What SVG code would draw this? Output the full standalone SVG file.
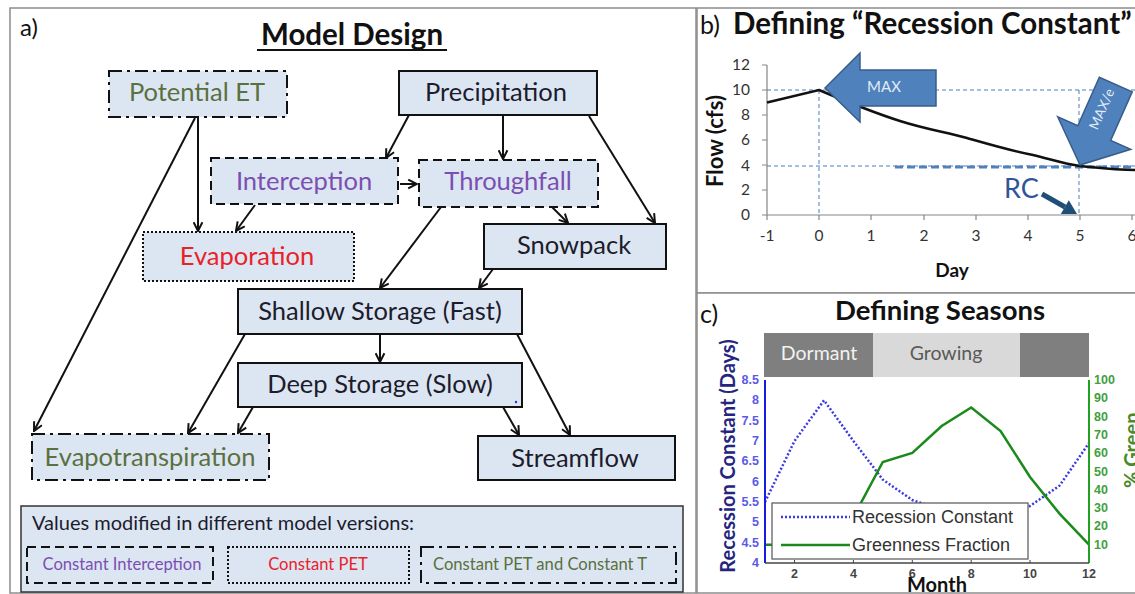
<svg xmlns="http://www.w3.org/2000/svg" width="1135" height="594" viewBox="0 0 1135 594">
  <style>
    .panel { fill: #ffffff; stroke: #8c8c8c; stroke-width: 1.5; }
    .box { fill: #dce6f2; stroke: #111; stroke-width: 2; }
    .dash { stroke-dasharray: 9 5; }
    .dot { stroke-dasharray: 2 2; }
    .dashdot { stroke-dasharray: 13 5 3 5; }
    .lbl { font-family: Lato, "Liberation Sans", sans-serif; font-size: 25.5px; text-anchor: middle; fill: #1c1c2c; }
    .green { fill: #5a7040; }
    .purple { fill: #7b4fb2; }
    .red { fill: #e8222a; }
    .conn line { stroke: #111; stroke-width: 2; marker-end: url(#ah); }
    .cal { font-family: Lato, "Liberation Sans", sans-serif; }
    .tick { font-family: Lato, "Liberation Sans", sans-serif; font-size: 15.5px; fill: #333; }
    .ax { stroke: #868686; stroke-width: 1.2; fill: none; }
    .guide { stroke: #4a7ebb; stroke-width: 1; stroke-dasharray: 4 3; fill: none; }
    .mtl { font-family: "Liberation Sans", Arial, sans-serif; font-size: 12.5px; font-weight: bold; }
  </style>
  <defs>
    <marker id="ah" viewBox="0 0 10 10" refX="9" refY="5" markerWidth="11" markerHeight="11" markerUnits="userSpaceOnUse" orient="auto">
      <path d="M1,1 L9,5 L1,9" fill="none" stroke="#111" stroke-width="1.8"/>
    </marker>
  </defs>

  <!-- panel frames -->
  <rect class="panel" x="10" y="8" width="686" height="585"/>
  <rect class="panel" x="697" y="8" width="445" height="285"/>
  <rect class="panel" x="697" y="293" width="445" height="300"/>

  <!-- ===== a) Model Design ===== -->
  <text x="20" y="36" class="cal" font-size="24" fill="#111">a)</text>
  <text x="352" y="45" class="cal" font-size="29.5" font-weight="bold" text-anchor="middle" fill="#111">Model Design</text>
  <line x1="257" y1="50" x2="447" y2="50" stroke="#111" stroke-width="2"/>

  <g id="potential-et">
    <rect class="box dashdot" x="109" y="71" width="178" height="46"/>
    <text class="lbl green" x="197" y="101">Potential ET</text>
  </g>
  <g id="precipitation">
    <rect class="box" x="399" y="71" width="198" height="44"/>
    <text class="lbl" x="496" y="101">Precipitation</text>
  </g>
  <g id="interception">
    <rect class="box dash" x="211" y="158" width="187" height="46"/>
    <text class="lbl purple" x="304" y="190">Interception</text>
  </g>
  <g id="throughfall">
    <rect class="box dash" x="419" y="160" width="179" height="47"/>
    <text class="lbl purple" x="508" y="190">Throughfall</text>
  </g>
  <g id="evaporation">
    <rect class="box dot" x="143" y="232" width="211" height="49"/>
    <text class="lbl red" x="247" y="265">Evaporation</text>
  </g>
  <g id="snowpack">
    <rect class="box" x="484" y="224" width="182" height="45"/>
    <text class="lbl" x="574" y="254">Snowpack</text>
  </g>
  <g id="shallow-storage">
    <rect class="box" x="238" y="289" width="284" height="45"/>
    <text class="lbl" x="380" y="320">Shallow Storage (Fast)</text>
  </g>
  <g id="deep-storage">
    <rect class="box" x="238" y="363" width="284" height="44"/>
    <text class="lbl" x="380" y="393">Deep Storage (Slow)</text>
    <circle cx="516" cy="402" r="1.2" fill="#2233cc"/>
  </g>
  <g id="evapotranspiration">
    <rect class="box dashdot" x="32" y="434" width="237" height="46"/>
    <text class="lbl green" x="150" y="466">Evapotranspiration</text>
  </g>
  <g id="streamflow">
    <rect class="box" x="478" y="436" width="197" height="44"/>
    <text class="lbl" x="575" y="467">Streamflow</text>
  </g>

  <g id="connectors" class="conn">
    <line x1="198" y1="117" x2="198" y2="231"/>
    <line x1="195" y1="118" x2="34" y2="431"/>
    <line x1="255" y1="205" x2="236" y2="231"/>
    <line x1="400" y1="184" x2="417" y2="184"/>
    <line x1="409" y1="115" x2="386" y2="158"/>
    <line x1="503" y1="115" x2="503" y2="159"/>
    <line x1="589" y1="116" x2="655" y2="223"/>
    <line x1="552" y1="207" x2="568" y2="223"/>
    <line x1="441" y1="207" x2="380" y2="288"/>
    <line x1="493" y1="269" x2="479" y2="288"/>
    <line x1="380" y1="334" x2="380" y2="362"/>
    <line x1="245" y1="334" x2="188" y2="433"/>
    <line x1="253" y1="407" x2="238" y2="433"/>
    <line x1="503" y1="407" x2="519" y2="435"/>
    <line x1="517" y1="334" x2="570" y2="435"/>
  </g>

  <g id="versions-key">
    <rect x="21" y="506" width="662" height="86" fill="#dce6f2" stroke="#333" stroke-width="1.5"/>
    <text x="32" y="530" class="cal" font-size="20" fill="#1c1c2c">Values modified in different model versions:</text>
    <rect class="box dash" x="27" y="547" width="186" height="36"/>
    <text x="122" y="570" class="cal purple" font-size="16.6" text-anchor="middle">Constant Interception</text>
    <rect class="box dot" x="228" y="547" width="181" height="36"/>
    <text x="318" y="570" class="cal red" font-size="16.6" text-anchor="middle">Constant PET</text>
    <rect class="box dashdot" x="421" y="547" width="255" height="36"/>
    <text x="540" y="570" class="cal green" font-size="16.6" text-anchor="middle">Constant PET and Constant T</text>
  </g>

  <!-- ===== b) Recession constant chart ===== -->
  <text x="700" y="34" class="cal" font-size="25" fill="#111">b)</text>
  <text x="733" y="34" class="cal" font-size="29.5" font-weight="bold" fill="#111">Defining “Recession Constant”</text>

  <!-- axes -->
  <path class="ax" d="M767,65 V215 H1135"/>
  <path class="ax" d="M762,65 H767 M762,90 H767 M762,115 H767 M762,140 H767 M762,165 H767 M762,190 H767 M762,215 H767"/>
  <path class="ax" d="M767,215 V220 M819,215 V220 M871,215 V220 M924,215 V220 M976,215 V220 M1028,215 V220 M1080,215 V220 M1132,215 V220"/>
  <g class="tick" text-anchor="end">
    <text x="750" y="70">12</text>
    <text x="750" y="95">10</text>
    <text x="750" y="120">8</text>
    <text x="750" y="145">6</text>
    <text x="750" y="171">4</text>
    <text x="750" y="195">2</text>
    <text x="750" y="220">0</text>
  </g>
  <g class="tick" text-anchor="middle">
    <text x="767" y="241">-1</text>
    <text x="819" y="241">0</text>
    <text x="871" y="241">1</text>
    <text x="924" y="241">2</text>
    <text x="976" y="241">3</text>
    <text x="1028" y="241">4</text>
    <text x="1080" y="241">5</text>
    <text x="1132" y="241">6</text>
  </g>
  <text x="952" y="277" class="cal" font-size="19" font-weight="bold" text-anchor="middle" fill="#111">Day</text>
  <text transform="translate(723,141) rotate(-90)" class="cal" font-size="22" font-weight="bold" text-anchor="middle" fill="#111">Flow (cfs)</text>

  <!-- guide lines -->
  <path class="guide" d="M767,90 H1135 M819,90 V215 M767,166 H1135 M1079,90 V215"/>
  <path d="M895,167 H1135" stroke="#4f81bd" stroke-width="3" stroke-dasharray="8 4" fill="none"/>

  <!-- hydrograph -->
  <path d="M767,102.5 L819,90 C845,101 875,113 900,121 C925,129 945,132 967,138 C995,146 1012,151 1033,155 C1050,159 1065,164 1080,166 C1100,168 1115,170 1135,170" fill="none" stroke="#111" stroke-width="2.5"/>

  <!-- MAX arrow -->
  <polygon points="825,88 860,53 860,70 936,70 936,106 860,106 860,122" fill="#4f81bd" stroke="#385d8a" stroke-width="1.5"/>
  <text x="884" y="92" class="cal" font-size="15" text-anchor="middle" fill="#e3ebf6">MAX</text>

  <!-- MAX/e arrow -->
  <polygon transform="translate(1080,165) rotate(114)" points="0,0 -35,40 -35,18 -88,18 -88,-18 -35,-18 -35,-40" fill="#4f81bd" stroke="#385d8a" stroke-width="1.5"/>
  <text transform="translate(1106,111) rotate(-66)" class="cal" font-size="13.5" text-anchor="middle" fill="#e3ebf6">MAX/e</text>

  <!-- RC pointer -->
  <text x="1004" y="198" class="cal" font-size="27" fill="#2f5597">RC</text>
  <line x1="1042" y1="194" x2="1065" y2="207" stroke="#1f4e79" stroke-width="5"/>
  <polygon points="1077,214 1060.8,214 1068.8,200.2" fill="#1f4e79"/>

  <!-- ===== c) Seasons chart ===== -->
  <text x="700" y="323" class="cal" font-size="25" fill="#111">c)</text>
  <text x="940" y="320" class="cal" font-size="27.5" font-weight="bold" text-anchor="middle" fill="#111">Defining Seasons</text>

  <rect x="764" y="333" width="109" height="44" fill="#7f7f7f"/>
  <rect x="873" y="333" width="147" height="44" fill="#d9d9d9"/>
  <rect x="1020" y="333" width="69" height="44" fill="#7f7f7f"/>
  <text x="819" y="360" class="cal" font-size="19.5" text-anchor="middle" fill="#f2f2f2">Dormant</text>
  <text x="946" y="360" class="cal" font-size="19.5" text-anchor="middle" fill="#595959">Growing</text>

  <!-- series -->
  <polyline points="765,502 794.5,441 824,400.3 853.4,441 882.8,479.6 912.3,500 941.7,510 971.2,514 1000.6,514 1030,506 1059.5,485.7 1089,443" fill="none" stroke="#3a3ae0" stroke-width="2.5" stroke-dasharray="2 2"/>
  <polyline points="765,544.7 794.5,544.7 824,541 853.4,517 882.8,462 912.3,453 941.7,426 971.2,407.5 1000.6,431 1030,477 1059.5,513.6 1089,544.7" fill="none" stroke="#1a8a1a" stroke-width="2.5"/>

  <!-- axes -->
  <line x1="765" y1="380" x2="765" y2="563" stroke="#1a1ae6" stroke-width="2"/>
  <line x1="1089" y1="380" x2="1089" y2="563" stroke="#22a022" stroke-width="2"/>
  <line x1="765" y1="563" x2="1089" y2="563" stroke="#444" stroke-width="1.5"/>
  <path d="M794.5,563 V560 M853.4,563 V560 M912.3,563 V560 M971.2,563 V560 M1030,563 V560" stroke="#444" stroke-width="1"/>
  <g class="mtl" fill="#5a5ae6" text-anchor="end">
    <text x="759" y="384">8.5</text>
    <text x="759" y="404">8</text>
    <text x="759" y="425">7.5</text>
    <text x="759" y="445">7</text>
    <text x="759" y="465">6.5</text>
    <text x="759" y="486">6</text>
    <text x="759" y="506">5.5</text>
    <text x="759" y="526">5</text>
    <text x="759" y="547">4.5</text>
    <text x="759" y="567">4</text>
  </g>
  <g class="mtl" fill="#3fa03f">
    <text x="1094" y="384">100</text>
    <text x="1094" y="402">90</text>
    <text x="1094" y="421">80</text>
    <text x="1094" y="439">70</text>
    <text x="1094" y="457">60</text>
    <text x="1094" y="476">50</text>
    <text x="1094" y="494">40</text>
    <text x="1094" y="512">30</text>
    <text x="1094" y="530">20</text>
    <text x="1094" y="549">10</text>
  </g>
  <g class="mtl" fill="#444" text-anchor="middle">
    <text x="794.5" y="578">2</text>
    <text x="853.4" y="578">4</text>
    <text x="912.3" y="578">6</text>
    <text x="971.2" y="578">8</text>
    <text x="1030" y="578">10</text>
    <text x="1089" y="578">12</text>
  </g>
  <text x="937" y="592" class="cal" font-size="20" font-weight="bold" text-anchor="middle" fill="#111">Month</text>
  <text transform="translate(735,456) rotate(-90)" class="cal" font-size="20" font-weight="bold" text-anchor="middle" fill="#25257f">Recession Constant (Days)</text>
  <text transform="translate(1139,488) rotate(-90)" class="cal" font-size="20" font-weight="bold" fill="#4a8a2a">% Green</text>

  <!-- series key -->
  <rect x="772" y="503" width="256" height="56" fill="#ffffff" stroke="#555" stroke-width="1.2"/>
  <line x1="781" y1="517" x2="850" y2="517" stroke="#3a3ae0" stroke-width="2.5" stroke-dasharray="2 2"/>
  <line x1="781" y1="545" x2="850" y2="545" stroke="#1a8a1a" stroke-width="2.5"/>
  <text x="852" y="523" font-family="'Liberation Sans', Arial, sans-serif" font-size="18" fill="#333">Recession Constant</text>
  <text x="852" y="551" font-family="'Liberation Sans', Arial, sans-serif" font-size="18" fill="#333">Greenness Fraction</text>
</svg>
